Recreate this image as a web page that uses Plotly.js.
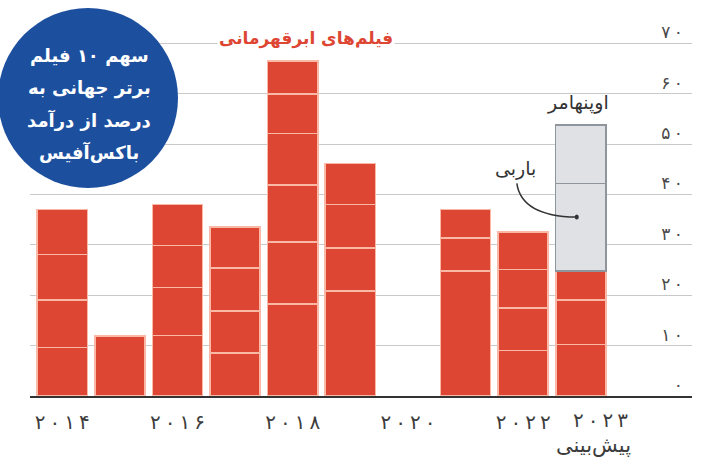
<!DOCTYPE html>
<html>
<head>
<meta charset="utf-8">
<script src="https://cdn.plot.ly/plotly-3.0.1.min.js"></script>
<style>
  html, body { margin: 0; padding: 0; background: #ffffff; }
  #chart { width: 715px; height: 461px; }
</style>
</head>
<body>
<div id="chart"></div>
<script>
// ---- data ----
const years = [2014, 2015, 2016, 2017, 2018, 2019, 2020, 2021, 2022, 2023];
// share of each superhero film (stacked segments, bottom to top)
const film1 = [9.6, 11.9, 12.0, 8.5, 18.2, 20.8, null, 24.8, 9.0, 10.2];
const film2 = [9.4, null, 9.5, 8.4, 12.3, 8.6, null, 6.6, 8.5, 8.8];
const film3 = [9.1, null, 8.4, 8.5, 11.4, 8.6, null, 5.6, 7.6, 5.8];
const film4 = [8.9, null, 8.1, 8.1, 10.2, 8.1, null, null, 7.4, null];
const film5 = [null, null, null, null, 7.8, null, null, null, null, null];
const film6 = [null, null, null, null, 6.6, null, null, null, null, null];
const barbie = [null, null, null, null, null, null, null, null, null, 17.4];
const oppenheimer = [null, null, null, null, null, null, null, null, null, 11.6];

const xTickVals = [2014, 2016, 2018, 2020, 2022];
const xTickText = ['۲۰۱۴', '۲۰۱۶', '۲۰۱۸', '۲۰۲۰', '۲۰۲۲'];
const forecastYear = 2023;
const forecastLabel = '۲۰۲۳';
const forecastNote = 'پیش‌بینی';
const yTickVals = [0, 10, 20, 30, 40, 50, 60, 70];
const yTickText = ['۰', '۱۰', '۲۰', '۳۰', '۴۰', '۵۰', '۶۰', '۷۰'];

const titleText = 'فیلم‌های ابرقهرمانی';
const circleLines = ['سهم ۱۰ فیلم', 'برتر جهانی به', 'درصد از درآمد', 'باکس‌آفیس'];
const barbieLabel = 'باربی';
const oppLabel = 'اوپنهامر';

// digits in the reference are set with wide tracking
const spaced = s => s.split('').join('\u2009');

// ---- styles ----
const RED = '#dd4633';
const SEP = '#f9b9a6';
const GREY = '#dfe1e5';
const GREY_LINE = '#8e959d';
const BLUE = '#1d4f9f';
const FONT = 'DejaVu Sans, Noto Sans, sans-serif';

const redSeries = [film1, film2, film3, film4, film5, film6];
const traces = redSeries.map((s, i) => ({
  type: 'bar', x: years, y: s, name: 'film' + (i + 1),
  marker: { color: RED, line: { color: SEP, width: 1.6 } },
  hoverinfo: 'skip'
}));
traces.push({
  type: 'bar', x: years, y: barbie, name: barbieLabel,
  marker: { color: GREY, line: { color: GREY_LINE, width: 1.4 } }, hoverinfo: 'skip'
});
traces.push({
  type: 'bar', x: years, y: oppenheimer, name: oppLabel,
  marker: { color: GREY, line: { color: GREY_LINE, width: 1.4 } }, hoverinfo: 'skip'
});

// plot area geometry helpers (pixels -> paper)
const L = 30, R = 23, T = 18, B = 65, W = 715, H = 461;
const pw = W - L - R, ph = H - T - B;
const px = v => (v - L) / pw;
const py = v => (H - B - v) / ph;

const C = { xanchor: 'center', yanchor: 'middle', showarrow: false };
const annotations = [];
annotations.push(Object.assign({
  xref: 'paper', yref: 'paper', x: px(306), y: py(38), text: titleText,
  bgcolor: '#ffffff', borderpad: 1,
  font: { family: FONT, size: 17, color: RED, weight: 'bold' }
}, C));
const circleY = [56, 88, 120, 152];
circleLines.forEach((t, i) => annotations.push(Object.assign({
  xref: 'paper', yref: 'paper', x: px(89), y: py(circleY[i]), text: t,
  font: { family: FONT, size: 18, color: '#ffffff', weight: 'bold' }
}, C)));
annotations.push(Object.assign({
  xref: 'x', yref: 'y', x: 2022.95, y: 58.3, text: oppLabel,
  font: { family: FONT, size: 19, color: '#333333' }
}, C));
annotations.push(Object.assign({
  xref: 'x', yref: 'y', x: 2021.86, y: 45.2, text: barbieLabel,
  font: { family: FONT, size: 19, color: '#333333' }
}, C));
annotations.push(Object.assign({
  xref: 'x', yref: 'paper', x: forecastYear, y: py(420), xshift: 20, text: spaced(forecastLabel),
  font: { family: FONT, size: 20, color: '#3c3c3c' }
}, C));
annotations.push(Object.assign({
  xref: 'x', yref: 'paper', x: forecastYear, y: py(445), xshift: 13, text: forecastNote,
  font: { family: FONT, size: 21, color: '#3c3c3c' }
}, C));

const shapes = [
  { type: 'circle', xref: 'paper', yref: 'paper', layer: 'above',
    x0: px(-2), x1: px(178), y0: py(188), y1: py(8),
    fillcolor: BLUE, line: { width: 0 } },
  { type: 'path', xref: 'x', yref: 'y', layer: 'above',
    path: 'M 2021.89 42.2 Q 2021.97 35.7 2022.92 35.5',
    line: { color: '#333333', width: 1.5 } },
  { type: 'circle', xref: 'x', yref: 'y', layer: 'above',
    x0: 2022.895, x1: 2022.965, y0: 35.0, y1: 36.0,
    fillcolor: '#333333', line: { width: 0 } }
];

const layout = {
  width: W, height: H,
  margin: { l: L, r: R, t: T, b: B, pad: 0 },
  paper_bgcolor: '#ffffff', plot_bgcolor: '#ffffff',
  barmode: 'stack', bargap: 0.13,
  showlegend: false,
  font: { family: FONT },
  xaxis: {
    range: [2013.44, 2024.93], tickvals: xTickVals, ticktext: xTickText.map(spaced),
    ticks: '', showgrid: false, zeroline: false,
    showline: true, linecolor: '#333333', linewidth: 2,
    tickfont: { family: FONT, size: 20, color: '#3c3c3c' },
    ticklabelstandoff: 7, fixedrange: true
  },
  yaxis: {
    range: [0, 75], side: 'right', tickvals: yTickVals, ticktext: yTickText.map(spaced),
    ticklabelposition: 'inside', ticklabelshift: -11, ticklabelstandoff: 6, ticks: '',
    showgrid: true, gridcolor: '#c9c9c9', gridwidth: 1,
    zeroline: false, showline: false,
    tickfont: { family: FONT, size: 17, color: '#4a4a4a' }, fixedrange: true
  },
  annotations: annotations,
  shapes: shapes
};

Plotly.newPlot('chart', traces, layout, { displayModeBar: false, staticPlot: true });
</script>
</body>
</html>
